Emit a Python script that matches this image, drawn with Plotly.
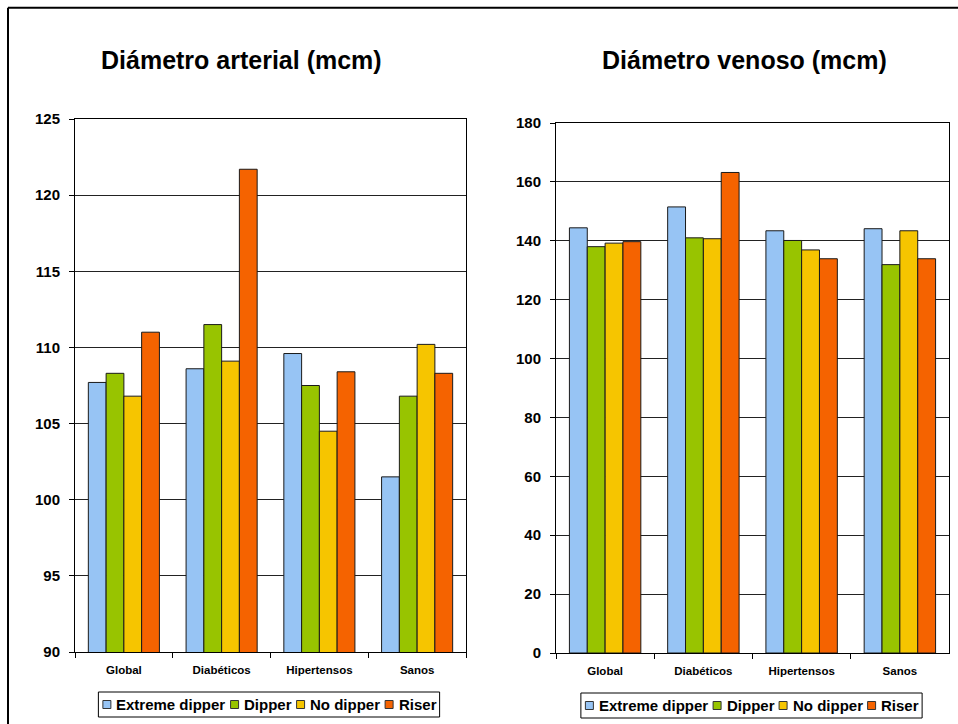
import plotly.graph_objects as go

# Categories and series
categories = ["Global", "Diabéticos", "Hipertensos", "Sanos"]
series_names = ["Extreme dipper", "Dipper", "No dipper", "Riser"]

# Arterial diameter (mcm), one list per series, in category order
art_extreme = [107.7, 108.6, 109.6, 101.5]
art_dipper = [108.3, 111.5, 107.5, 106.8]
art_nodipper = [106.8, 109.1, 104.5, 110.2]
art_riser = [111.0, 121.7, 108.4, 108.3]

# Venous diameter (mcm)
ven_extreme = [144.4, 151.5, 143.4, 144.1]
ven_dipper = [138.0, 141.0, 140.1, 131.9]
ven_nodipper = [139.2, 140.7, 136.9, 143.4]
ven_riser = [139.7, 163.2, 133.9, 133.9]

colors = ["#97C4F4", "#98C400", "#F6C500", "#F56300"]

W, H = 958, 724
FONT = "Liberation Sans, Arial, sans-serif"


def fx(x):
    return x / W


def fy(y):
    return 1 - y / H


arterial = [art_extreme, art_dipper, art_nodipper, art_riser]
venous = [ven_extreme, ven_dipper, ven_nodipper, ven_riser]

fig = go.Figure()
for name, col, vals in zip(series_names, colors, arterial):
    fig.add_trace(go.Bar(
        x=categories, y=vals, name=name, xaxis="x", yaxis="y",
        marker=dict(color=col, line=dict(color="#1a1a1a", width=1)),
        showlegend=False,
    ))
for name, col, vals in zip(series_names, colors, venous):
    fig.add_trace(go.Bar(
        x=categories, y=vals, name=name, xaxis="x2", yaxis="y2",
        marker=dict(color=col, line=dict(color="#1a1a1a", width=1)),
        showlegend=False,
    ))

xcommon = dict(
    type="category", showline=True, mirror=True, linecolor="black", linewidth=1,
    ticks="outside", tickson="boundaries", ticklen=5, tickcolor="black",
    tickfont=dict(family=FONT, size=11.5, color="black", weight="bold"),
    showgrid=False, ticklabelstandoff=7, automargin=False,
)
ycommon = dict(
    showline=True, mirror=True, linecolor="black", linewidth=1,
    ticks="outside", ticklen=5, tickcolor="black",
    tickfont=dict(family=FONT, size=15, color="black", weight="bold"),
    showgrid=True, gridcolor="#222222", gridwidth=1, zeroline=False,
    ticklabelstandoff=6, automargin=False,
)

fig.update_layout(
    width=W, height=H,
    margin=dict(l=0, r=0, t=0, b=0, pad=0, autoexpand=False),
    paper_bgcolor="white", plot_bgcolor="white",
    showlegend=False,
    barmode="group", bargap=0.273, bargroupgap=0,
    xaxis=dict(domain=[fx(75), fx(466)], anchor="y", **xcommon),
    yaxis=dict(domain=[fy(652), fy(119)], anchor="x", range=[90, 125], dtick=5, **ycommon),
    xaxis2=dict(domain=[fx(556), fx(949)], anchor="y2", **xcommon),
    yaxis2=dict(domain=[fy(653), fy(123)], anchor="x2", range=[0, 180], dtick=20, **ycommon),
)

# Chart titles
for cx, text in [(242, "Diámetro arterial (mcm)"), (744, "Diámetro venoso (mcm)")]:
    fig.add_annotation(
        x=fx(cx), y=fy(60), xref="paper", yref="paper",
        xanchor="center", yanchor="middle", showarrow=False,
        text=text, font=dict(family=FONT, size=25, color="black", weight="bold"),
    )

# Outer frame (top and left edges)
fig.add_shape(type="line", xref="paper", yref="paper",
              x0=fx(8), x1=fx(W + 5), y0=fy(7.7), y1=fy(7.7),
              line=dict(color="black", width=2))
fig.add_shape(type="line", xref="paper", yref="paper",
              x0=fx(8), x1=fx(8), y0=fy(7.7), y1=fy(H + 5),
              line=dict(color="black", width=2))

# Custom legends below each chart
ARIAL_BOLD = {" ": 278, "D": 722, "E": 667, "N": 722, "R": 722, "d": 611,
              "e": 556, "i": 278, "m": 889, "n": 611, "o": 611, "p": 611,
              "r": 389, "s": 556, "t": 333, "x": 556}


def text_width(s, size):
    return sum(ARIAL_BOLD.get(c, 556) for c in s) * size / 1000


LEG_FONT = 15
SQ = 8
PAD = 4.5
SQ_GAP = 4.5
ITEM_GAP = 6


def add_legend(center_x, top_y, bottom_y):
    widths = [text_width(n, LEG_FONT) for n in series_names]
    total = 2 * PAD + len(series_names) * (SQ + SQ_GAP) + sum(widths) + ITEM_GAP * (len(series_names) - 1)
    x0 = center_x - total / 2
    fig.add_shape(type="rect", xref="paper", yref="paper",
                  x0=fx(x0), x1=fx(x0 + total), y0=fy(bottom_y), y1=fy(top_y),
                  line=dict(color="black", width=1), fillcolor="white")
    mid = (top_y + bottom_y) / 2
    x = x0 + PAD
    for name, col, w in zip(series_names, colors, widths):
        fig.add_shape(type="rect", xref="paper", yref="paper",
                      x0=fx(x), x1=fx(x + SQ), y0=fy(mid + SQ / 2), y1=fy(mid - SQ / 2),
                      line=dict(color="#333333", width=1), fillcolor=col)
        x += SQ + SQ_GAP
        fig.add_annotation(x=fx(x), y=fy(mid), xref="paper", yref="paper",
                           xanchor="left", yanchor="middle", showarrow=False,
                           text=name, xshift=-1,
                           font=dict(family=FONT, size=LEG_FONT, color="black", weight="bold"))
        x += w + ITEM_GAP


add_legend(269, 692, 717)
add_legend(751.5, 693, 718)

fig.write_html("out.html")
